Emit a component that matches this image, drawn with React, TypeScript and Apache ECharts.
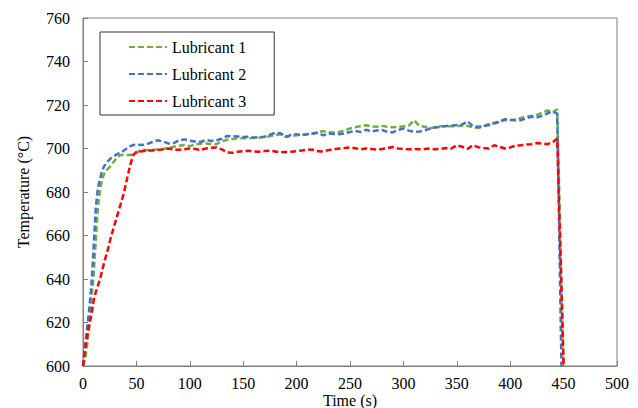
import React, { useEffect, useRef } from "react";
import * as echarts from "echarts";

const times = [
  0, 2, 4, 6, 8, 10, 12, 14, 16, 18,
  20, 23, 26, 29, 32, 35, 38, 41, 44, 47,
  50, 55, 60, 65, 70, 75, 80, 85, 90, 95,
  100, 105, 110, 115, 120, 125, 130, 135, 140, 145,
  150, 155, 160, 165, 170, 175, 180, 185, 190, 195,
  200, 205, 210, 215, 220, 225, 230, 235, 240, 245,
  250, 255, 260, 265, 270, 275, 280, 285, 290, 295,
  300, 305, 310, 315, 320, 325, 330, 335, 340, 345,
  350, 355, 360, 365, 370, 375, 380, 385, 390, 395,
  400, 405, 410, 415, 420, 425, 430, 435, 440, 444,
  448, 450,
];

const lubricant1 = [
  600, 603, 610, 620, 631, 642, 658, 673, 681, 686,
  688.5, 690.5, 692, 694, 696, 697, 697, 697, 697, 697.3,
  698, 699.5, 699.2, 699.3, 699.6, 699.8, 700.2, 700.8, 701.3, 701.6,
  701.1, 701.8, 702.2, 702.3, 702.1, 702, 703.3, 704, 704.4, 704.7,
  704.8, 704.6, 705, 705, 705.3, 705.6, 706.2, 706.6, 705.4, 705.8,
  706.1, 706.3, 706.6, 706.8, 707.5, 708, 707.3, 707.4, 707.6, 708.3,
  709.2, 709.8, 710.3, 710.7, 710.2, 710, 710.4, 710, 709.8, 710,
  710.2, 710.5, 713, 710.4, 710, 709.3, 709.8, 710.2, 710.3, 710.2,
  710.3, 710.5, 710.4, 709.8, 709.4, 710.2, 711.3, 711.8, 712.5, 713,
  713, 713.2, 714, 714.6, 715, 715.4, 716.5, 717.5, 716.8, 718,
  null, 600,
];

const lubricant2 = [
  600, 610, 618, 627, 638, 655, 673, 682, 686, 690,
  692, 694, 695.5, 696.5, 697.5, 698, 699, 700, 701, 701.6,
  701.8, 701.6, 702, 703, 703.8, 703.2, 702.3, 702.5, 703.8, 704.2,
  703.6, 703.2, 703, 703.9, 703.5, 703.8, 704.5, 705.8, 705.6, 705.5,
  705.3, 705.4, 705, 705.2, 705.4, 706.3, 707.2, 707, 705.4, 706.3,
  706.6, 706.1, 706.5, 706.9, 707.2, 706, 706.9, 706.7, 706.6, 707,
  707.6, 708.1, 707.6, 708.6, 707.8, 708.3, 708.5, 707.6, 707.4, 708.5,
  709.2, 708.2, 707.7, 707.8, 708.3, 709.2, 709.7, 710, 710.3, 710.5,
  710.8, 711, 712.5, 710.3, 710, 710.2, 710.8, 711.5, 712.3, 713.5,
  713.2, 713, 713, 714, 714.6, 714.3, 715, 716.2, 717, 716,
  600, null,
];

const lubricant3 = [
  600, 608, 614, 619, 624, 630, 634, 637, 640, 644,
  648, 653, 659, 664, 669, 674, 679, 685.5, 692, 697,
  698.5, 698.7, 699, 699.1, 699.3, 699.6, 700, 699.5, 699.4, 699.7,
  700, 699.8, 699.3, 700, 700.3, 700.5, 699.6, 698.2, 698, 698.5,
  698.8, 699, 698.6, 698.5, 698.8, 699, 698.6, 698.2, 698.4, 698.5,
  698.8, 699.1, 699.5, 699.4, 698.7, 698.6, 699.3, 699.6, 700, 700.2,
  700.5, 700.1, 699.6, 700, 699.8, 699.5, 699.8, 700.2, 700.7, 700,
  699.8, 699.6, 699.8, 699.6, 699.8, 700, 699.6, 699.8, 700.2, 700,
  701.5, 700.8, 699.8, 701.5, 700.6, 700.2, 700, 701.5, 700.8, 700,
  700.5, 701.3, 701.5, 701.8, 702, 702.5, 702.3, 702, 703, 704.5,
  null, 600,
];

const seriesNames = ["Lubricant 1", "Lubricant 2", "Lubricant 3"];
const seriesColors = ["#70AD47", "#4472C4", "#FF0000"];
const seriesValues = [lubricant1, lubricant2, lubricant3];

const FONT = "Liberation Serif";

export default function App() {
  const ref = useRef<HTMLDivElement>(null);
  useEffect(() => {
    if (!ref.current) return;
    const chart = echarts.init(ref.current, undefined, { renderer: "svg" });
    const axisColor = "#7F7F7F";
    chart.setOption({
      animation: false,
      backgroundColor: "#ffffff",
      textStyle: { fontFamily: FONT },
      grid: {
        left: 83,
        right: 21,
        top: 18,
        bottom: 42,
        outerBoundsMode: "none",
        containLabel: false,
        show: true,
        borderColor: axisColor,
        borderWidth: 1,
        backgroundColor: "transparent",
      },
      legend: {
        orient: "vertical",
        left: 100,
        top: 32,
        padding: [7, 28, 6, 28],
        itemWidth: 38,
        itemHeight: 14,
        itemGap: 11,
        borderColor: "#333",
        borderWidth: 1,
        itemStyle: { opacity: 0 },
        lineStyle: { width: 2 },
        textStyle: { fontFamily: FONT, fontSize: 16, color: "#000" },
        data: seriesNames,
      },
      xAxis: {
        type: "value",
        min: 0,
        max: 500,
        interval: 50,
        name: "Time (s)",
        nameLocation: "middle",
        nameGap: 26,
        nameMoveOverlap: false,
        nameTextStyle: { fontFamily: FONT, fontSize: 16, color: "#000", verticalAlign: "top" },
        axisLine: { show: true, lineStyle: { color: axisColor, width: 1 } },
        axisTick: { show: true, inside: true, length: 5, lineStyle: { color: axisColor } },
        axisLabel: { fontFamily: FONT, fontSize: 16, color: "#000", margin: 9 },
        splitLine: { show: false },
      },
      yAxis: {
        type: "value",
        min: 600,
        max: 760,
        interval: 20,
        name: "Temperature (\u00B0C)",
        nameLocation: "middle",
        nameGap: 52,
        nameMoveOverlap: false,
        nameTextStyle: { fontFamily: FONT, fontSize: 16, color: "#000" },
        axisLine: { show: true, lineStyle: { color: axisColor, width: 1 } },
        axisTick: { show: true, inside: true, length: 5, lineStyle: { color: axisColor } },
        axisLabel: { fontFamily: FONT, fontSize: 16, color: "#000", margin: 13 },
        splitLine: { show: false },
      },
      series: seriesNames.map((name, i) => ({
        name,
        type: "line",
        showSymbol: false,
        symbol: "none",
        connectNulls: true,
        color: seriesColors[i],
        lineStyle: { color: seriesColors[i], width: 2.5, type: [6, 3] },
        data: times.map((t, k) => [t, seriesValues[i][k]]),
      })),
    });
    return () => chart.dispose();
  }, []);
  return (
    <div
      ref={ref}
      style={{ position: "absolute", left: 0, top: 0, width: 638, height: 408 }}
    />
  );
}
